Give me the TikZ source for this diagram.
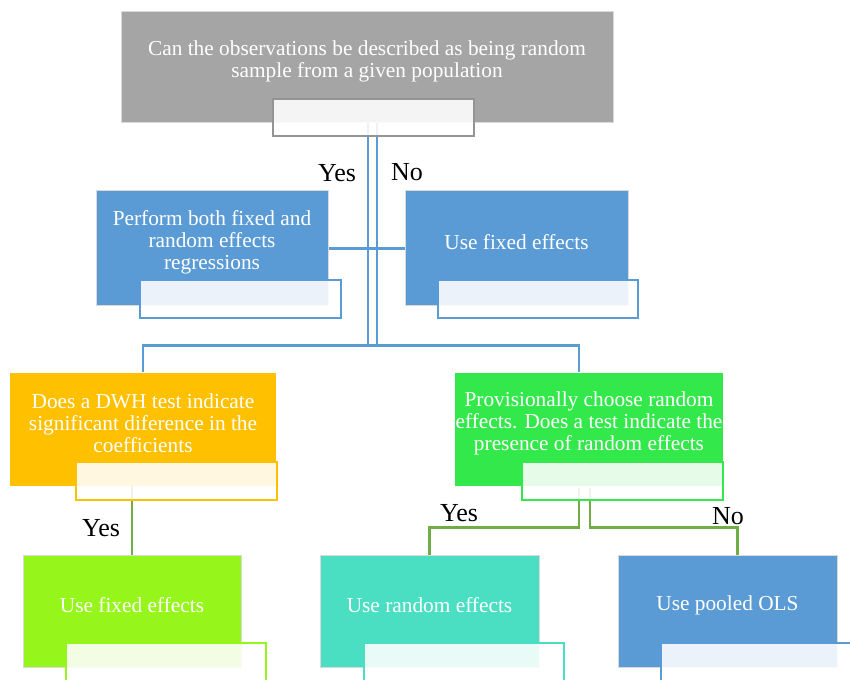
\documentclass[tikz,border=0pt]{standalone}
\usepackage{fontspec}
\setmainfont{Liberation Serif}
\usetikzlibrary{calc,backgrounds}
\definecolor{greybox}{HTML}{A5A5A5}
\definecolor{bluebox}{HTML}{5B9BD5}
\definecolor{goldbox}{HTML}{FFC000}
\definecolor{greenbox}{HTML}{33E84A}
\definecolor{limebox}{HTML}{96F51B}
\definecolor{tealbox}{HTML}{4ADFC3}
\definecolor{leaf}{HTML}{70AD47}
\tikzstyle{card} = [rectangle, draw=white!85!black, line width=0.75pt, inner sep=0pt]
\tikzstyle{tab} = [rectangle, fill=white, fill opacity=0.88, line width=1.5pt, inner sep=0pt, minimum width=150.75pt, minimum height=28.5pt]
\tikzstyle{words} = [text=white, align=center, yshift=4.5pt, font=\fontsize{16}{16.6}\selectfont]
\tikzstyle{answer} = [text=black, inner sep=0pt, font=\fontsize{19.5}{22}\selectfont]
\tikzstyle{bluelink} = [bluebox, line width=1.8pt]
\tikzstyle{greenlink} = [leaf, line width=1.6pt]

\begin{document}
\begin{tikzpicture}[x=0.75pt, y=-0.75pt]
        \useasboundingbox (0,0) rectangle (850,680);
        \clip (0,0) rectangle (850,680);
            \node (b1) [card, fill=greybox, minimum width=369pt, minimum height=83.25pt,
                label={[words]center:Can the observations be described as being random\\sample from a given population}] at (367,67.5) {};
            \node (t1) [tab, draw=greybox!90!black, minimum height=27.75pt] at (373.5,117.5) {};
            \node (b2) [card, fill=bluebox, minimum width=174pt, minimum height=86.25pt,
                label={[words]center:Perform both fixed and\\random effects\\regressions}] at (212,248.5) {};
            \node (t2) [tab, draw=bluebox] at (240.5,299.5) {};
            \node (b3) [card, fill=bluebox, minimum width=167.25pt, minimum height=86.25pt,
                label={[words]center:Use fixed effects}] at (516.5,248.5) {};
            \node (t3) [tab, draw=bluebox, minimum width=150pt] at (538,299.5) {};
            \node (b4) [card, draw=none, fill=goldbox, minimum width=199.5pt, minimum height=84.75pt,
                label={[words]center:Does a DWH test indicate\\significant diference in the\\coefficients}] at (143,429.5) {};
            \node (t4) [tab, draw=goldbox] at (176.5,481) {};
            \node (b5) [card, draw=none, fill=greenbox, minimum width=201pt, minimum height=84.75pt,
                label={[words]center:Provisionally choose random\\effects. Does a test indicate the\\presence of random effects}] at (589,429.5) {};
            \node (t5) [tab, draw=greenbox] at (622.5,481) {};
            \node (b6) [card, fill=limebox, minimum width=163.5pt, minimum height=83.25pt,
                label={[words]center:Use fixed effects}] at (132,611.5) {};
            \node (t6) [tab, draw=limebox, minimum width=150pt, minimum height=30pt] at (166,663) {};
            \node (b7) [card, fill=tealbox, minimum width=164.25pt, minimum height=83.25pt,
                label={[words]center:Use random effects}] at (429.5,611.5) {};
            \node (t7) [tab, draw=tealbox, minimum width=150pt, minimum height=30pt] at (463.5,663) {};
            \node (b8) [card, fill=bluebox, minimum width=164.25pt, minimum height=83.25pt,
                label={[words]center:Use pooled OLS}] at (727.5,611.5) {};
            \node (t8) [tab, draw=bluebox, minimum width=150pt, minimum height=30pt] at (761,663) {};
            \node (a1) [answer] at (337,173) {Yes};
            \node (a2) [answer] at (407,172) {No};
            \node (a3) [answer] at (101,528) {Yes};
            \node (a4) [answer] at (459,513) {Yes};
            \node (a5) [answer] at (728,516) {No};
            \begin{pgfonlayer}{background}
            \draw [bluelink] ($(b1.south)+(1,0)$) -- ($(b1.south)+(1,222)$);
            \draw [bluelink] ($(b1.south)+(10,0)$) -- ($(b1.south)+(10,222)$);
            \draw [bluelink] (b4.north) |- ($(b1.south)+(5,222)$) -| ($(b5.north)+(-10,0)$);
            \draw [bluelink] (b2.east) -- (b3.west);
            \draw [greenlink] (b4.south -| b6.north) -- (b6.north);
            \draw [greenlink] ($(b5.south)+(-10,2)$) -- ($(b5.south)+(-10,41)$) -| (b7.north);
            \draw [greenlink] ($(b5.south)+(1,2)$) -- ($(b5.south)+(1,41)$) -| ($(b8.north)+(10,0)$);
            \end{pgfonlayer}
        \end{tikzpicture}
\end{document}
